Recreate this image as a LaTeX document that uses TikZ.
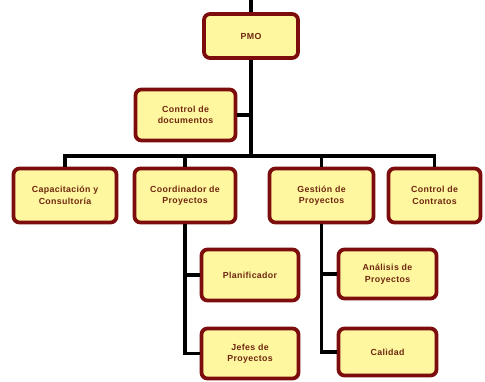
\documentclass[tikz,border=0pt]{standalone}
\usepackage{fontspec}
\setmainfont{Liberation Sans}[LetterSpace=4]
\definecolor{boxfill}{RGB}{255,246,160}
\definecolor{boxline}{RGB}{125,12,12}
\definecolor{boxtext}{RGB}{110,40,15}
\begin{document}
\begin{tikzpicture}[x=1pt,y=-1pt,
  box/.style={draw=boxline, line width=3.8pt, fill=boxfill, rounded corners=6pt,
    text=boxtext, font=\fontsize{8.8}{11.5}\selectfont\bfseries, align=center, inner sep=0pt},
  wire/.style={line width=3.4pt, draw=black}]
\useasboundingbox (0,0) rectangle (485,381);
% connector junction points
\coordinate (top) at (251,0);
\coordinate (jn) at (251,156);
% nodes
\node[box, minimum width=94, minimum height=44] (pmo) at (251,36) {PMO};
\node[box, minimum width=100, minimum height=51] (cdoc) at (185.5,115) {Control de\\documentos};
\node[box, minimum width=103, minimum height=54] (cap) at (65,195.5) {Capacitación y\\Consultoría};
\node[box, minimum width=101, minimum height=54] (coord) at (185,195.5) {Coordinador de\\Proyectos};
\node[box, minimum width=104, minimum height=54] (gest) at (321.5,195.5) {Gestión de\\Proyectos};
\node[box, minimum width=92, minimum height=54] (ctr) at (434.5,195.5) {Control de\\Contratos};
\node[box, minimum width=97, minimum height=51] (plan) at (250,275) {Planificador};
\node[box, minimum width=97, minimum height=50] (jefes) at (250,353.5) {Jefes de\\Proyectos};
\node[box, minimum width=98, minimum height=49] (ana) at (387.5,274) {Análisis de\\Proyectos};
\node[box, minimum width=98, minimum height=47] (cal) at (387.5,352) {Calidad};
% connectors
\draw[wire] (top) -- (pmo.north);
\draw[wire] (pmo.south) -- (jn);
\draw[wire] (cdoc.east) -- (cdoc.east -| jn);
\draw[wire] (cap.north) -- (cap.north |- jn) -- (ctr.north |- jn) -- (ctr.north);
\draw[wire] (coord.north |- jn) -- (coord.north);
\draw[wire] (gest.north |- jn) -- (gest.north);
\draw[wire] (coord.south) |- (jefes.west);
\draw[wire] (coord.south |- plan.west) -- (plan.west);
\draw[wire] (gest.south) |- (cal.west);
\draw[wire] (gest.south |- ana.west) -- (ana.west);
\end{tikzpicture}
\end{document}
